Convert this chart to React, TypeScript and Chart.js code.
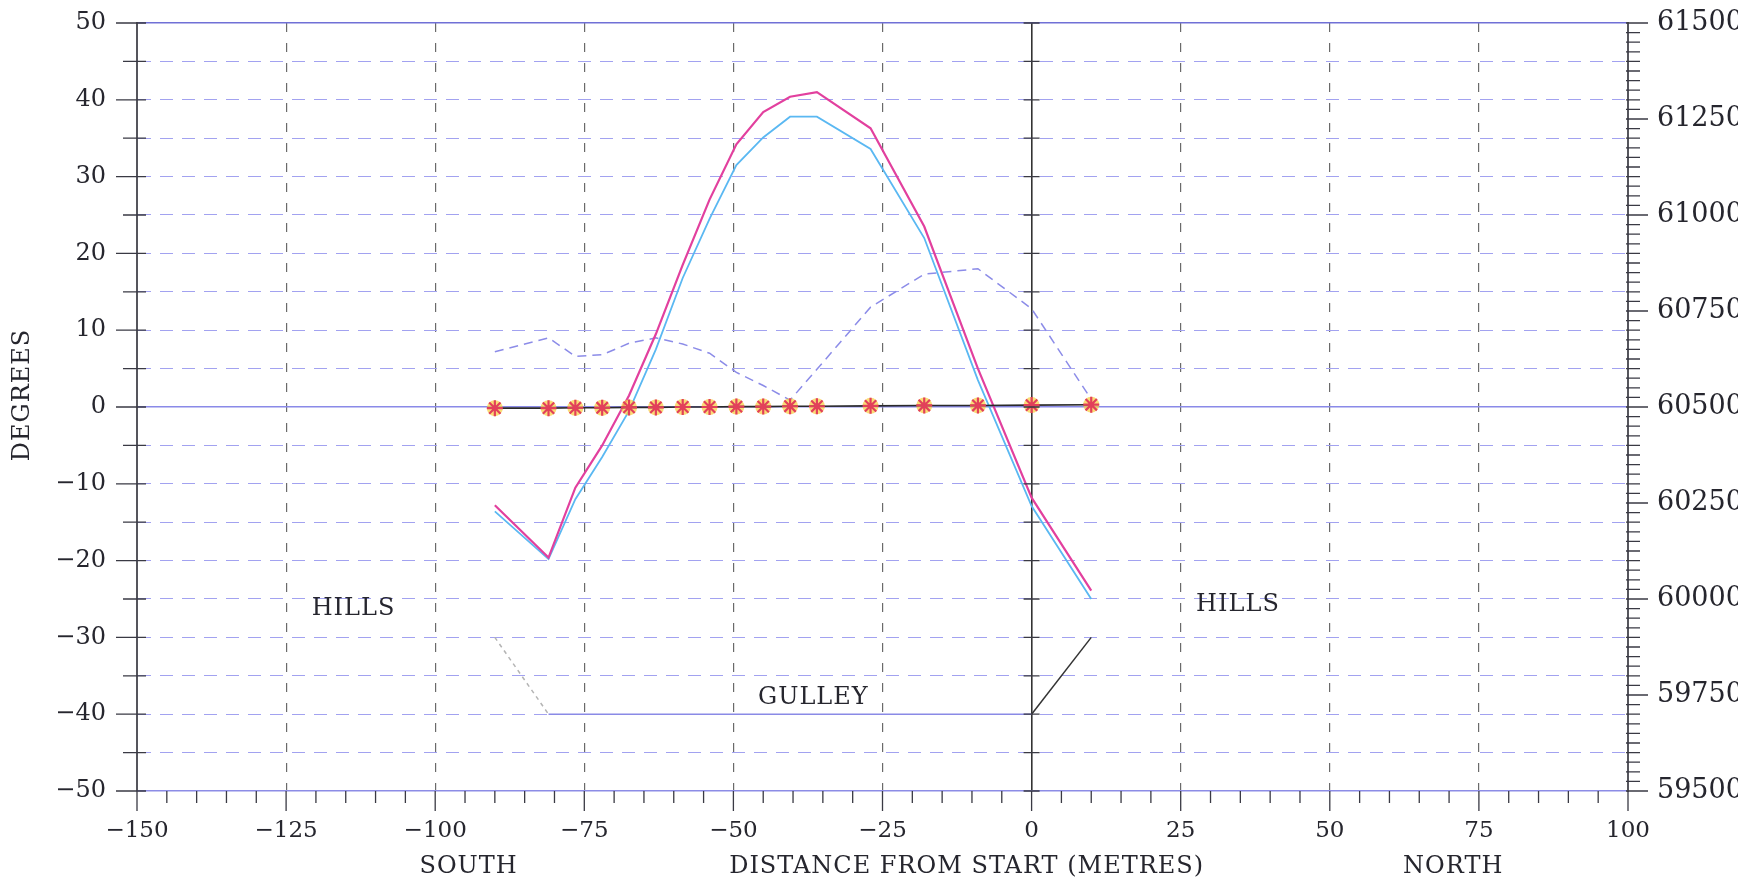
import React, { useEffect, useRef } from 'react';
import { Chart, registerables } from 'chart.js';

Chart.register(...registerables);

// ---------- data ----------
const distance = [-90, -81, -76.5, -72, -67.5, -63, -58.5, -54, -49.5, -45, -40.5, -36, -27, -18, -9, 0, 10];
const inclinationA = [-12.8, -19.6, -10.5, -5.0, 1.5, 9.5, 18.5, 27.0, 34.2, 38.4, 40.4, 41.0, 36.3, 23.5, 5.0, -11.8, -23.9];
const inclinationB = [-13.6, -19.8, -12.0, -6.5, -0.5, 7.5, 16.8, 24.5, 31.5, 35.1, 37.8, 37.8, 33.6, 22.0, 3.5, -12.9, -25.0];
const declination = [7.2, 9.0, 6.6, 6.8, 8.3, 9.0, 8.2, 7.0, 4.5, 2.8, 0.9, 4.9, 13.0, 17.3, 18.0, 12.8, 1.0];
const totalField = [60497, 60497, 60498, 60498, 60499, 60499, 60500, 60500, 60501, 60501, 60502, 60502, 60503, 60504, 60504, 60505, 60506];
const gulleyDistance = [-90, -81, 0, 10];
const gulleyProfile = [-30, -40, -40, -30];

const xLabelTicks = [-150, -125, -100, -75, -50, -25, 0, 25, 50, 75, 100];
const leftLabelTicks = [-50, -40, -30, -20, -10, 0, 10, 20, 30, 40, 50];
const rightLabelTicks = [59500, 59750, 60000, 60250, 60500, 60750, 61000, 61250, 61500];

const annotations = [
  { text: 'HILLS', x: -113.7, y: -26.3 },
  { text: 'HILLS', x: 34.6, y: -25.7 },
  { text: 'GULLEY', x: -36.6, y: -37.9 },
];
const captions = [
  { text: 'SOUTH', x: -94.4 },
  { text: 'DISTANCE FROM START (METRES)', x: -10.9 },
  { text: 'NORTH', x: 70.7 },
];
const yTitle = 'DEGREES';

// ---------- layout / style ----------
const CANVAS_W = 1738;
const CANVAS_H = 882;
const PLOT_LEFT = 137;
const PLOT_RIGHT = 1628;
const PLOT_TOP = 23;
const PLOT_BOTTOM = 791;
const SERIF = '"DejaVu Serif", "Liberation Serif", serif';
const TEXT = '#26262e';

const pts = (xs: number[], ys: number[]) => xs.map((x, i) => ({ x, y: ys[i] }));
const fmt = (v: number) => (v < 0 ? '\u2212' + Math.abs(v) : String(v));

const decorPlugin = {
  id: 'decor',
  afterDraw(chart: any) {
    const { ctx, chartArea: a, scales } = chart;
    const x = scales.x;
    const y = scales.y;
    const y2 = scales.y2;
    ctx.save();
    ctx.strokeStyle = '#3a3a44';
    ctx.lineWidth = 1.3;
    ctx.beginPath();
    // left axis ticks
    y.ticks.forEach((t: any) => {
      const py = y.getPixelForValue(t.value);
      const major = t.value % 10 === 0;
      ctx.moveTo(a.left - (major ? 21 : 14), py);
      ctx.lineTo(a.left + 9, py);
    });
    // ticks along the x = 0 line
    const x0 = x.getPixelForValue(0);
    y.ticks.forEach((t: any) => {
      const py = y.getPixelForValue(t.value);
      ctx.moveTo(x0 - 8, py);
      ctx.lineTo(x0 + 8, py);
    });
    // bottom axis ticks
    x.ticks.forEach((t: any) => {
      const px = x.getPixelForValue(t.value);
      const major = t.value % 25 === 0;
      ctx.moveTo(px, a.bottom);
      ctx.lineTo(px, a.bottom + (major ? 20 : 12));
    });
    // right axis ticks
    y2.ticks.forEach((t: any) => {
      const py = y2.getPixelForValue(t.value);
      const major = t.value % 250 === 0;
      ctx.moveTo(a.right - 2, py);
      ctx.lineTo(a.right + (major ? 20 : 12), py);
    });
    ctx.stroke();

    // texts
    ctx.fillStyle = TEXT;
    ctx.font = `24px ${SERIF}`;
    (ctx as any).letterSpacing = '1px';
    ctx.textAlign = 'center';
    ctx.textBaseline = 'middle';
    annotations.forEach((n) => {
      ctx.fillText(n.text, x.getPixelForValue(n.x), y.getPixelForValue(n.y));
    });
    captions.forEach((c) => {
      ctx.fillText(c.text, x.getPixelForValue(c.x), a.bottom + 76);
    });
    ctx.translate(23, (a.top + a.bottom) / 2 - 12);
    ctx.rotate(-Math.PI / 2);
    ctx.fillText(yTitle, 0, 0);
    ctx.restore();
  },
};

export default function App() {
  const ref = useRef<HTMLCanvasElement>(null);

  useEffect(() => {
    const prevMargin = document.body.style.margin;
    document.body.style.margin = '0';
    const canvas = ref.current;
    if (!canvas) return;

    const chart = new Chart(canvas, {
      type: 'line',
      data: {
        datasets: [
          {
            label: 'Inclination A',
            data: pts(distance, inclinationA),
            borderColor: '#e2409e',
            borderWidth: 2.2,
            pointRadius: 0,
            tension: 0,
            yAxisID: 'y',
            order: 3,
          },
          {
            label: 'Inclination B',
            data: pts(distance, inclinationB),
            borderColor: '#5ab8f2',
            borderWidth: 1.8,
            pointRadius: 0,
            tension: 0,
            yAxisID: 'y',
            order: 4,
          },
          {
            label: 'Declination',
            data: pts(distance, declination),
            borderColor: '#8c8ce8',
            borderWidth: 1.5,
            borderDash: [9, 6],
            pointRadius: 0,
            tension: 0,
            yAxisID: 'y',
            order: 5,
          },
          {
            label: 'Total field',
            data: pts(distance, totalField),
            borderColor: '#2a2a2a',
            borderWidth: 1.6,
            pointStyle: 'star',
            pointRadius: 8,
            pointBorderColor: '#e2405a',
            pointBackgroundColor: '#e2405a',
            pointBorderWidth: 2.2,
            tension: 0,
            yAxisID: 'y2',
            order: 1,
          },
          {
            label: 'Total field halo',
            data: pts(distance, totalField),
            showLine: false,
            pointStyle: 'circle',
            pointRadius: 8,
            pointBorderWidth: 0,
            pointBackgroundColor: 'rgba(248,205,60,0.7)',
            yAxisID: 'y2',
            order: 2,
          },
          {
            label: 'Ground profile',
            data: pts(gulleyDistance, gulleyProfile),
            pointRadius: 0,
            borderWidth: 1.5,
            borderColor: '#8a8ae6',
            tension: 0,
            segment: {
              borderColor: (c: any) => (c.p0DataIndex === 0 ? '#b4b4b4' : c.p0DataIndex === 1 ? '#8a8ae6' : '#333333'),
              borderDash: (c: any) => (c.p0DataIndex === 0 ? [4, 4] : []),
            },
            yAxisID: 'y',
            order: 6,
          },
        ] as any,
      },
      options: {
        responsive: false,
        maintainAspectRatio: false,
        animation: false,
        layout: { padding: { top: PLOT_TOP, left: 0, right: 0, bottom: 0 } },
        plugins: {
          legend: { display: false },
          tooltip: { enabled: false },
        },
        scales: {
          x: {
            type: 'linear',
            position: 'bottom',
            min: -150,
            max: 100,
            afterFit: (s: any) => {
              s.height = CANVAS_H - PLOT_BOTTOM;
              s.paddingLeft = 0;
              s.paddingRight = 0;
            },
            ticks: {
              stepSize: 5,
              autoSkip: false,
              maxRotation: 0,
              minRotation: 0,
              padding: 26,
              color: TEXT,
              font: { family: SERIF, size: 23 },
              callback: (v: any) => (xLabelTicks.includes(Number(v)) ? fmt(Number(v)) : ''),
            },
            grid: {
              drawTicks: false,
              color: (c: any) => (c.tick && c.tick.value === 0 ? '#333333' : '#6a6a6a'),
              lineWidth: (c: any) => {
                if (!c.tick) return 0;
                const v = c.tick.value;
                if (v === -150 || v === 100) return 0;
                if (v === 0) return 1.6;
                return v % 25 === 0 ? 1.2 : 0;
              },
            },
            border: {
              display: true,
              color: '#8c8ce6',
              width: 1.5,
              dash: (c: any) => (c.type === 'tick' && c.tick && c.tick.value !== 0 ? [9, 11] : []),
            },
          },
          y: {
            type: 'linear',
            position: 'left',
            min: -50,
            max: 50,
            afterFit: (s: any) => {
              s.width = PLOT_LEFT;
              s.paddingTop = 0;
              s.paddingBottom = 0;
            },
            ticks: {
              stepSize: 5,
              autoSkip: false,
              padding: 31,
              color: TEXT,
              font: { family: SERIF, size: 24 },
              callback: (v: any) => (leftLabelTicks.includes(Number(v)) ? fmt(Number(v)) : ''),
            },
            grid: {
              drawTicks: false,
              color: (c: any) => {
                const v = c.tick ? c.tick.value : null;
                if (v === 50) return '#7070d6';
                if (v === 0) return '#8a8ae8';
                return '#a2a2f0';
              },
              lineWidth: (c: any) => {
                const v = c.tick ? c.tick.value : null;
                if (v === -50) return 0;
                if (v === 50 || v === 0) return 1.4;
                return 1.1;
              },
            },
            border: {
              display: true,
              color: '#55555c',
              width: 2,
              dash: (c: any) =>
                c.type === 'tick' && c.tick && c.tick.value !== 0 && c.tick.value !== 50 ? [13, 9] : [],
            },
          },
          y2: {
            type: 'linear',
            position: 'right',
            min: 59500,
            max: 61500,
            afterFit: (s: any) => {
              s.width = CANVAS_W - PLOT_RIGHT;
              s.paddingTop = 0;
              s.paddingBottom = 0;
            },
            ticks: {
              stepSize: 25,
              autoSkip: false,
              padding: 29,
              color: TEXT,
              font: { family: SERIF, size: 27 },
              callback: (v: any) => (rightLabelTicks.includes(Number(v)) ? String(v) : ''),
            },
            grid: { drawOnChartArea: false, drawTicks: false },
            border: { display: true, color: '#55555c', width: 2 },
          },
        },
      } as any,
      plugins: [decorPlugin],
    });

    return () => {
      chart.destroy();
      document.body.style.margin = prevMargin;
    };
  }, []);

  return (
    <div
      style={{
        position: 'fixed',
        left: 0,
        top: 0,
        width: 1746,
        height: 882,
        background: '#ffffff',
        overflow: 'hidden',
      }}
    >
      <canvas
        ref={ref}
        width={CANVAS_W}
        height={CANVAS_H}
        style={{ display: 'block', width: CANVAS_W, height: CANVAS_H }}
      />
    </div>
  );
}
